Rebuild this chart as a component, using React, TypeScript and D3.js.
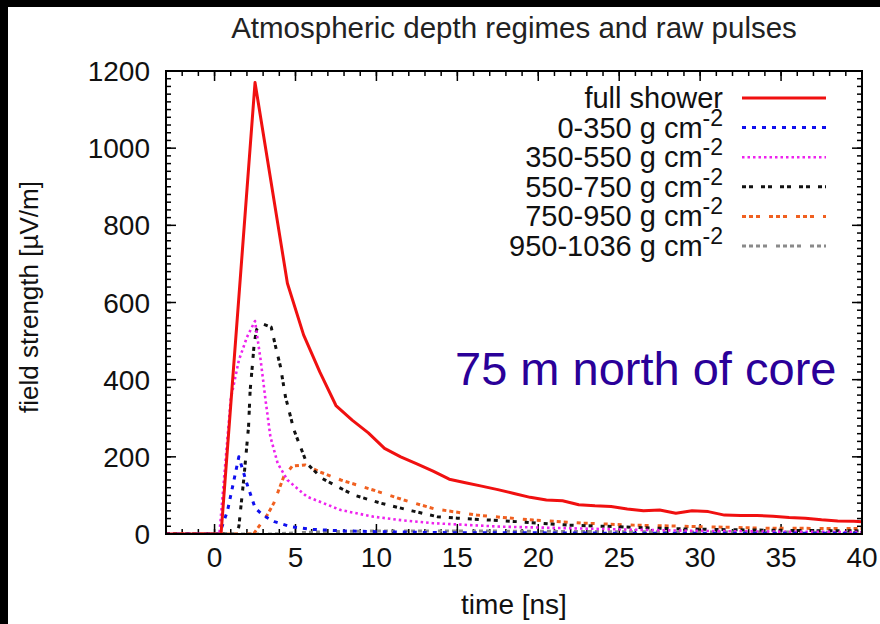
import React from "react";
import * as d3 from "d3";

const W = 880;
const H = 624;

const chartTitle = "Atmospheric depth regimes and raw pulses";
const xAxisLabel = "time [ns]";
const yAxisLabel = "field strength [\u00b5V/m]";
const annotation = "75 m north of core";

const xTickValues = [0, 5, 10, 15, 20, 25, 30, 35, 40];
const yTickValues = [0, 200, 400, 600, 800, 1000, 1200];

const legendLabels = ["full shower", "0-350 g cm", "350-550 g cm", "550-750 g cm", "750-950 g cm", "950-1036 g cm"];
const legendSup = ["", "-2", "-2", "-2", "-2", "-2"];

const fullShowerT = [-3, 0.4, 2.5, 4.5, 5.5, 6.5, 7.5, 8.5, 9.5, 10.5, 11.5, 12.5, 13.5, 14.5, 15.5, 16.5, 17.5, 18.5, 19.5, 20.5, 21.5, 22.5, 23.5, 24.5, 25.5, 26.5, 27.5, 28.5, 29.5, 30.5, 31.5, 32.5, 33.5, 34.5, 35.5, 36.5, 37.5, 38.5, 39.5, 40];
const fullShowerV = [0, 0, 1170, 650, 516, 420, 333, 295, 262, 222, 200, 182, 163, 142, 133, 124, 115, 105, 95, 88, 86, 76, 73, 71, 65, 60, 62, 54, 60, 58, 49, 48, 48, 46, 43, 41, 37, 34, 33, 32];

const d0T = [-3, 0.3, 0.8, 1.5, 2.0, 2.5, 3.0, 3.7, 4.7, 6, 8, 10, 13, 16, 20, 25, 30, 35, 40];
const d0V = [0, 0, 60, 200, 130, 68, 48, 32, 19, 12, 8, 6, 4, 3, 3, 2, 2, 2, 2];

const d350T = [-3, 0.3, 0.7, 1.0, 1.5, 2.0, 2.5, 2.85, 3.15, 3.45, 3.9, 4.5, 5.7, 7.8, 9.8, 11.5, 13.5, 17.7, 21.8, 26, 30, 35, 40];
const d350V = [0, 0, 200, 350, 450, 510, 552, 450, 347, 252, 183, 140, 97, 62, 45, 36, 28, 19, 15, 11, 8, 6, 5];

const d550T = [-3, 1.3, 1.5, 1.8, 2.1, 2.2, 2.33, 2.45, 2.6, 3.0, 3.5, 3.77, 4.07, 4.38, 4.9, 5.7, 6.65, 7.4, 8.6, 10.25, 12.2, 13.75, 15, 18.7, 21.8, 24.9, 28, 32, 36, 40];
const d550V = [0, 0, 19, 140, 278, 373, 434, 494, 530, 544, 536, 486, 434, 356, 270, 183, 144, 127, 101, 80, 60, 45, 41, 32, 23, 19, 14, 11, 9, 8];

const d750T = [-3, 2.4, 3.25, 3.66, 4.28, 4.8, 5.6, 6.5, 7.8, 9.8, 11.7, 13.6, 16.2, 19.7, 22.8, 25.9, 30, 34.1, 40];
const d750V = [0, 0, 49, 80, 149, 176, 179, 161, 140, 114, 88, 65, 49, 36, 28, 23, 19, 15, 14];

const d950T = [-3, 3.5, 5, 7, 10, 15, 20, 25, 30, 35, 40];
const d950V = [0, 0, 3, 6, 8, 8, 7, 6, 5, 5, 4];

const seriesStyles = [
  { color: "#f01010", width: 3, dash: "" },
  { color: "#1010ee", width: 3, dash: "4,6" },
  { color: "#ee22ee", width: 2.6, dash: "2.5,3" },
  { color: "#111111", width: 3, dash: "4,3,4,8" },
  { color: "#f06020", width: 3, dash: "4,3,4,3,4,9" },
  { color: "#8a8a8a", width: 3, dash: "4,3,4,3,4,3,4,9" },
];

const seriesData = [
  [fullShowerT, fullShowerV],
  [d0T, d0V],
  [d350T, d350V],
  [d550T, d550V],
  [d750T, d750V],
  [d950T, d950V],
];

const FONT = "'Liberation Sans', Arial, Helvetica, sans-serif";

export default function App() {
  const left = 166, right = 862, top = 71, bottom = 534;
  const x = d3.scaleLinear().domain([-3, 40]).range([left, right]);
  const y = d3.scaleLinear().domain([0, 1200]).range([bottom, top]);

  const line = d3
    .line<[number, number]>()
    .x((d) => x(d[0]))
    .y((d) => y(d[1]));

  const xMinor = d3.range(-3, 41, 1);
  const yMinor = d3.range(0, 1201, 20);
  const majL = 10, minL = 5;

  const order = [5, 4, 3, 2, 1, 0];

  return (
    <div style={{ position: "fixed", left: 0, top: 0, width: W, height: H }}>
      <svg width={W} height={H} style={{ display: "block" }} fontFamily={FONT}>
        <rect x={0} y={0} width={W} height={H} fill="#ffffff" />
        <rect x={0} y={0} width={8} height={H} fill="#000" />
        <rect x={0} y={0} width={W} height={7} fill="#000" />

        <text x={514} y={38} textAnchor="middle" fontSize={29.5} fill="#222">
          {chartTitle}
        </text>

        <defs>
          <clipPath id="plotclip">
            <rect x={left} y={top} width={right - left} height={bottom - top} />
          </clipPath>
        </defs>

        <g stroke="#000" strokeWidth={1.5}>
          {xMinor.map((v) => (
            <g key={"xm" + v}>
              <line x1={x(v)} x2={x(v)} y1={bottom} y2={bottom - minL} />
              <line x1={x(v)} x2={x(v)} y1={top} y2={top + minL} />
            </g>
          ))}
          {yMinor.map((v) => (
            <g key={"ym" + v}>
              <line x1={left} x2={left + minL} y1={y(v)} y2={y(v)} />
              <line x1={right} x2={right - minL} y1={y(v)} y2={y(v)} />
            </g>
          ))}
          {xTickValues.map((v) => (
            <g key={"xM" + v}>
              <line x1={x(v)} x2={x(v)} y1={bottom} y2={bottom - majL} />
              <line x1={x(v)} x2={x(v)} y1={top} y2={top + majL} />
            </g>
          ))}
          {yTickValues.map((v) => (
            <g key={"yM" + v}>
              <line x1={left} x2={left + majL} y1={y(v)} y2={y(v)} />
              <line x1={right} x2={right - majL} y1={y(v)} y2={y(v)} />
            </g>
          ))}
        </g>

        <g clipPath="url(#plotclip)" fill="none">
          {order.map((i) => {
            const [ts, vs] = seriesData[i];
            const pts = ts.map((t, k) => [t, vs[k]] as [number, number]);
            const s = seriesStyles[i];
            return (
              <path
                key={"s" + i}
                d={line(pts) || ""}
                stroke={s.color}
                strokeWidth={s.width}
                strokeDasharray={s.dash || undefined}
                strokeLinejoin="round"
              />
            );
          })}
        </g>

        <rect x={left} y={top} width={right - left} height={bottom - top} fill="none" stroke="#000" strokeWidth={2} />

        {xTickValues.map((v) => (
          <text key={"xl" + v} x={x(v)} y={567} textAnchor="middle" fontSize={28} fill="#111">
            {v}
          </text>
        ))}
        {yTickValues.map((v) => (
          <text key={"yl" + v} x={150} y={y(v) + 10} textAnchor="end" fontSize={28} fill="#111">
            {v}
          </text>
        ))}

        <text x={514} y={614} textAnchor="middle" fontSize={28} fill="#111">
          {xAxisLabel}
        </text>
        <text transform="translate(38,297) rotate(-90)" textAnchor="middle" fontSize={26} fill="#111">
          {yAxisLabel}
        </text>

        {legendLabels.map((lab, i) => {
          const ly = 98 + i * 29.6;
          const s = seriesStyles[i];
          return (
            <g key={"lg" + i}>
              <text x={723} y={ly + 10} textAnchor="end" fontSize={29} fill="#111">
                {lab}
                {legendSup[i] ? (
                  <tspan dy={-12} fontSize={23}>
                    {legendSup[i]}
                  </tspan>
                ) : null}
              </text>
              <line x1={742} x2={826} y1={ly} y2={ly} stroke={s.color} strokeWidth={s.width} strokeDasharray={s.dash || undefined} />
            </g>
          );
        })}

        <text x={455} y={385} fontSize={47} fill="#2a0099">
          {annotation}
        </text>
      </svg>
    </div>
  );
}
